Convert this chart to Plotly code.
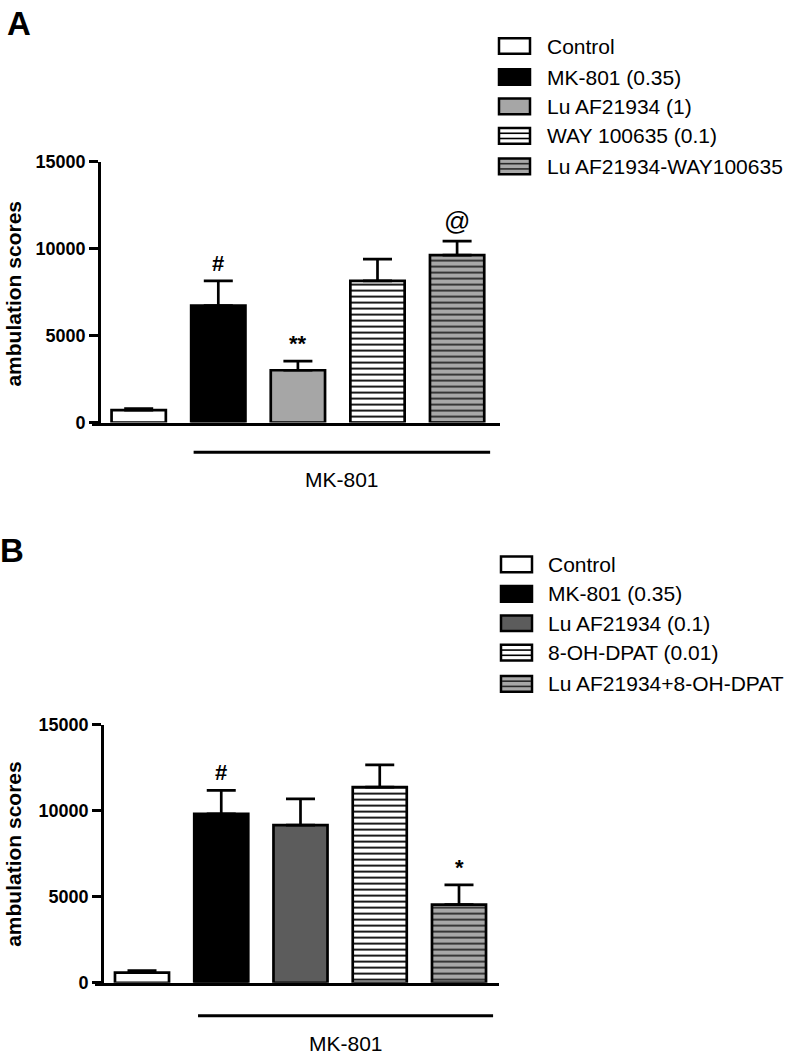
import plotly.graph_objects as go

W, H = 792, 1064

# ---------------- data ----------------
groups_A = ["Control", "MK-801 (0.35)", "Lu AF21934 (1)", "WAY 100635 (0.1)", "Lu AF21934-WAY100635"]
means_A = [720, 6720, 3010, 8150, 9620]
sem_A = [80, 1430, 520, 1250, 810]
marks_A = ["", "#", "**", "", "@"]

groups_B = ["Control", "MK-801 (0.35)", "Lu AF21934 (0.1)", "8-OH-DPAT (0.01)", "Lu AF21934+8-OH-DPAT"]
means_B = [600, 9810, 9160, 11370, 4540]
sem_B = [110, 1370, 1530, 1290, 1150]
marks_B = ["", "#", "", "", "*"]

y_ticks = [0, 5000, 10000, 15000]
group_label = "MK-801"
y_title = "ambulation scores"

# ---------------- styles ----------------
fill_A = ["#ffffff", "#000000", "#a6a6a6", "#ffffff", "#a8a8a8"]
fill_B = ["#ffffff", "#000000", "#5c5c5c", "#ffffff", "#a8a8a8"]
stripe = ["", "", "", "-", "-"]
stripe_fg = ["#000000", "#000000", "#000000", "#000000", "#2a2a2a"]

FONT = "Liberation Sans, Arial, sans-serif"


def pxx(p):
    return p / W


def pxy(p):
    return 1 - p / H


fig = go.Figure()

panels = [
    dict(name="A", groups=groups_A, means=means_A, sem=sem_A, marks=marks_A, fill=fill_A,
         xa="x", ya="y", xdom=(92, 500), c0=138.7, step=79.6, ydom=(420.5, 154.5), ypos=99,
         ylab=(13.5, 289.5), letter=(18.5, 14), legx=499, legtx=545,
         legy=[36.7, 68.3, 98.3, 128.3, 159.3], liney=450.7, texty=479,
         line=(0.69, 4.415)),
    dict(name="B", groups=groups_B, means=means_B, sem=sem_B, marks=marks_B, fill=fill_B,
         xa="x2", ya="y2", xdom=(95, 499), c0=142.0, step=79.25, ydom=(991.5, 728.3), ypos=102,
         ylab=(14, 860), letter=(11.5, 551), legx=501, legtx=546,
         legy=[565, 595, 625, 655, 686.7], liney=1025, texty=1053,
         line=(0.707, 4.43)),
]

shapes = []
annotations = []

for i, p in enumerate(panels):
    n = len(p["groups"])
    for j in range(n):
        pat = dict(shape=stripe[j], fgcolor=stripe_fg[j], bgcolor=p["fill"][j],
                   size=6, solidity=0.3, fillmode="replace") if stripe[j] else dict(shape="")
        fig.add_trace(go.Bar(
            x=[j], y=[p["means"][j]], width=0.682,
            xaxis=p["xa"], yaxis=p["ya"],
            marker=dict(color=p["fill"][j], line=dict(color="#000000", width=2.7), pattern=pat),
            error_y=dict(type="data", array=[p["sem"][j]], arrayminus=[0], symmetric=False,
                         color="#000000", thickness=2.7, width=14.5),
            showlegend=False, hoverinfo="skip", name=p["groups"][j],
        ))

    suffix = "" if i == 0 else "2"
    x0 = (p["xdom"][0] - p["c0"]) / p["step"]
    x1 = (p["xdom"][1] - p["c0"]) / p["step"]
    fig.update_layout(**{
        "xaxis" + suffix: dict(domain=[pxx(p["xdom"][0]), pxx(p["xdom"][1])], range=[x0, x1],
                               anchor="y" + suffix, showline=True, linecolor="#000000", linewidth=2.7,
                               showticklabels=False, ticks="", showgrid=False, zeroline=False,
                               fixedrange=True),
        "yaxis" + suffix: dict(domain=[pxy(p["ydom"][0]), pxy(p["ydom"][1])], range=[0, 15000],
                               anchor="free", position=pxx(p["ypos"]),
                               showline=True, linecolor="#000000", linewidth=2.7,
                               ticks="outside", ticklen=9, tickwidth=2.5, tickcolor="#000000",
                               tickvals=y_ticks, tickformat="d",
                               tickfont=dict(family=FONT, size=18, color="#000000", weight="bold"),
                               showgrid=False, zeroline=False, fixedrange=True),
    })

    # significance marks
    for j in range(n):
        if p["marks"][j]:
            annotations.append(dict(
                x=j, y=p["means"][j] + p["sem"][j], xref=p["xa"], yref=p["ya"],
                text=p["marks"][j], showarrow=False, yanchor="bottom", yshift=3,
                font=dict(family=FONT, size=26 if p["marks"][j] == "@" else 22, color="#000000",
                          weight="normal" if p["marks"][j] == "@" else "bold"),
            ))

    # MK-801 bracket line and label
    shapes.append(dict(type="line", xref=p["xa"], yref="paper",
                       x0=p["line"][0], x1=p["line"][1],
                       y0=pxy(p["liney"]), y1=pxy(p["liney"]),
                       line=dict(color="#000000", width=3)))
    annotations.append(dict(x=(p["line"][0] + p["line"][1]) / 2, xref=p["xa"],
                            y=pxy(p["texty"]), yref="paper", text=group_label, showarrow=False,
                            xanchor="center", yanchor="middle",
                            font=dict(family=FONT, size=21, color="#000000")))

    # y axis title
    annotations.append(dict(x=pxx(p["ylab"][0]), y=pxy(p["ylab"][1]), xref="paper", yref="paper",
                            text=y_title, textangle=-90, showarrow=False,
                            xanchor="center", yanchor="middle",
                            font=dict(family=FONT, size=21, color="#000000", weight="bold")))
    # panel letter
    annotations.append(dict(x=pxx(p["letter"][0]), y=pxy(p["letter"][1]), xref="paper", yref="paper",
                            text=p["name"], showarrow=False, xanchor="center", yanchor="middle",
                            font=dict(family=FONT, size=33, color="#000000", weight="bold")))

    # custom legend
    for j in range(n):
        cy = p["legy"][j]
        lx0, lx1 = p["legx"], p["legx"] + 31
        ty0, ty1 = cy - 8, cy + 8
        shapes.append(dict(type="rect", xref="paper", yref="paper",
                           x0=pxx(lx0), x1=pxx(lx1), y0=pxy(ty1), y1=pxy(ty0),
                           fillcolor=p["fill"][j], line=dict(color="#000000", width=2.5)))
        if stripe[j]:
            for frac in (1 / 3, 2 / 3):
                yy = ty0 + frac * (ty1 - ty0)
                shapes.append(dict(type="line", xref="paper", yref="paper",
                                   x0=pxx(lx0 + 1), x1=pxx(lx1 - 1), y0=pxy(yy), y1=pxy(yy),
                                   line=dict(color=stripe_fg[j], width=1.6)))
        annotations.append(dict(x=pxx(p["legtx"]), y=pxy(cy), xref="paper", yref="paper",
                                text=p["groups"][j], showarrow=False, xanchor="left", yanchor="middle",
                                font=dict(family=FONT, size=21, color="#000000")))

fig.update_layout(
    width=W, height=H,
    margin=dict(l=0, r=0, t=0, b=0),
    paper_bgcolor="#ffffff", plot_bgcolor="#ffffff",
    shapes=shapes, annotations=annotations,
    font=dict(family=FONT, color="#000000"),
)

fig.write_html("out.html", config={"displayModeBar": False},
               post_script="document.body.style.margin='0px';document.body.style.padding='0px';")
